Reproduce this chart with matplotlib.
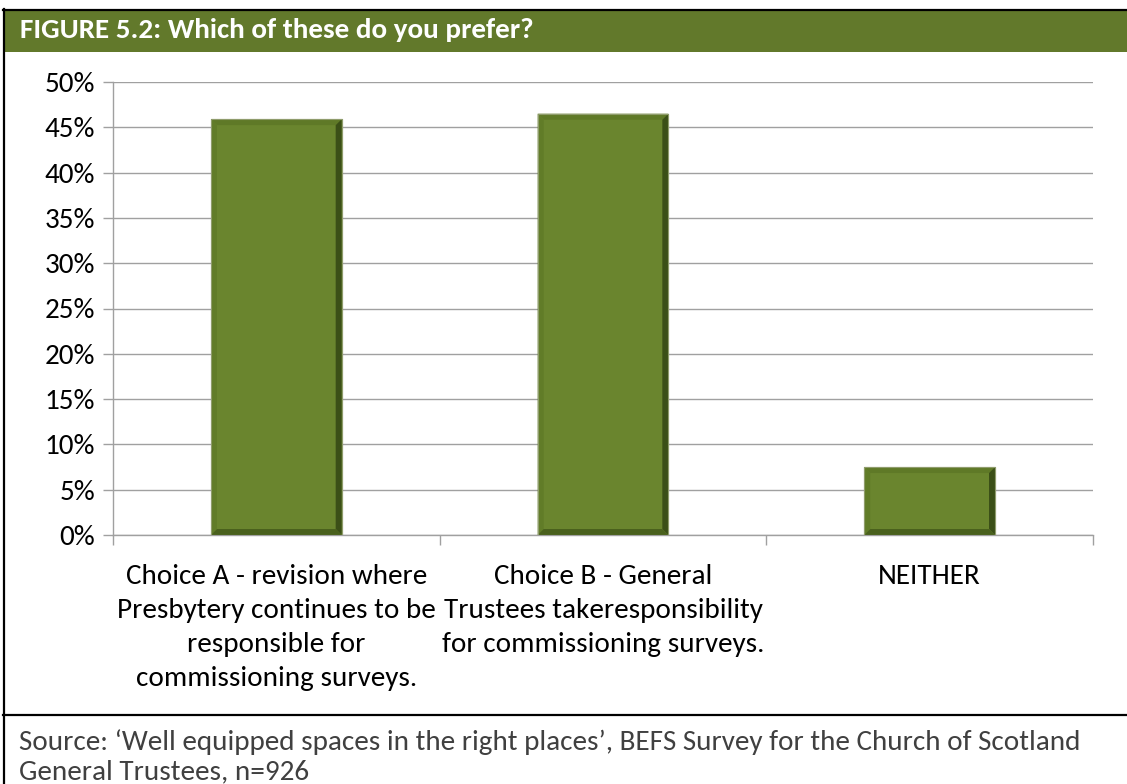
import matplotlib.pyplot as plt
from matplotlib.lines import Line2D
from matplotlib.patches import Polygon, Rectangle

W, H = 1127, 784

title = "FIGURE 5.2: Which of these do you prefer?"
categories = [
    "Choice A - revision where\nPresbytery continues to be\nresponsible for\ncommissioning surveys.",
    "Choice B - General\nTrustees takeresponsibility\nfor commissioning surveys.",
    "NEITHER",
]
shares = [0.459, 0.465, 0.075]
yticks = [0.00, 0.05, 0.10, 0.15, 0.20, 0.25, 0.30, 0.35, 0.40, 0.45, 0.50]
ytick_labels = ["0%", "5%", "10%", "15%", "20%", "25%", "30%", "35%", "40%", "45%", "50%"]
source = ("Source: \u2018Well equipped spaces in the right places\u2019, BEFS Survey for the Church of Scotland\n"
          "General Trustees, n=926")

FONT = ["Carlito", "Liberation Sans Narrow", "Open Sans", "DejaVu Sans"]
plt.rcParams["font.family"] = FONT

GREEN = "#62792b"
FACE = "#6a852e"


def px(x, y):
    # pixel position (from top-left) -> figure fraction
    return x / W, 1 - y / H


fig = plt.figure(figsize=(W / 100, H / 100), dpi=100)

# title band
x0, y0 = px(5, 52)
fig.add_artist(Rectangle((x0, y0), 1 - x0, 41 / H, transform=fig.transFigure,
                         facecolor=GREEN, edgecolor="none"))
fig.text(20 / W, 1 - 30 / H, title, color="white", fontsize=21, fontweight="bold",
         va="center", ha="left")

# box lines
fig.add_artist(Line2D([3 / W, 1], [1 - 10 / H] * 2, color="black", lw=1.6, transform=fig.transFigure))
fig.add_artist(Line2D([4 / W] * 2, [1 - 9 / H, 0], color="black", lw=1.6, transform=fig.transFigure))
fig.add_artist(Line2D([3 / W, 1], [1 - 715 / H] * 2, color="black", lw=1.6, transform=fig.transFigure))

fig.text(19 / W, 1 - 757 / H, source, color="#404040", fontsize=21, va="center", ha="left",
         linespacing=1.22)

# plot area
left, bottom = px(113, 535)
right, top = px(1093, 82)
ax = fig.add_axes([left, bottom, right - left, top - bottom])
ax.set_xlim(-0.5, 2.5)
ax.set_ylim(0, 0.5)

bw = 0.4
ax.bar(range(3), shares, width=bw, color=FACE, edgecolor="#8f9c6c", linewidth=0.8, zorder=3)

# bevel edges, about 6 px wide
bx = 6 * 3.0 / 980
by = 6 * 0.5 / 453
for i, v in enumerate(shares):
    a, b = i - bw / 2, i + bw / 2
    sides = [
        ([(a, v), (b, v), (b - bx, v - by), (a + bx, v - by)], "#5f7927"),
        ([(a, 0), (a, v), (a + bx, v - by), (a + bx, by)], "#617c28"),
        ([(b, 0), (b, v), (b - bx, v - by), (b - bx, by)], "#3b4f17"),
        ([(a, 0), (b, 0), (b - bx, by), (a + bx, by)], "#4a611d"),
    ]
    for pts, c in sides:
        ax.add_patch(Polygon(pts, closed=True, facecolor=c, edgecolor="none", zorder=4))
    ax.add_patch(Rectangle((a, 0), bw, v, facecolor="none", edgecolor="#8f9c6c", lw=0.8, zorder=5))

ax.set_yticks(yticks)
ax.set_yticklabels(ytick_labels, fontsize=21)
ax.yaxis.grid(True, color="#a0a0a0", lw=1.0)
ax.set_axisbelow(True)

ax.set_xticks(range(3))
ax.set_xticklabels(categories, fontsize=21, linespacing=1.44)
ax.set_xticks([-0.5, 0.5, 1.5, 2.5], minor=True)
ax.tick_params(axis="x", which="major", length=0, pad=21)
ax.tick_params(axis="x", which="minor", length=7, width=1.0, color="#a0a0a0")
ax.tick_params(axis="y", length=7, width=1.0, color="#a0a0a0", pad=6)

for s in ["top", "right"]:
    ax.spines[s].set_visible(False)
for s in ["left", "bottom"]:
    ax.spines[s].set_color("#a0a0a0")
    ax.spines[s].set_linewidth(1.0)

fig.savefig("out.png", dpi=100)
